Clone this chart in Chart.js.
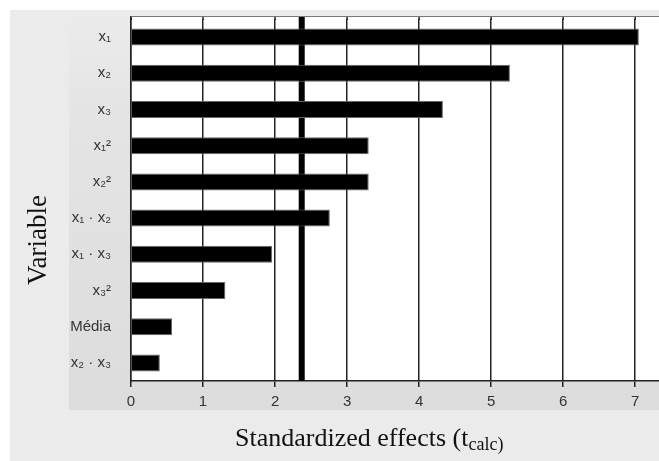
<!DOCTYPE html>
<html>
<head>
<meta charset="utf-8">
<script src="https://cdn.jsdelivr.net/npm/chart.js@4/dist/chart.umd.min.js"></script>
<style>
  html, body { margin: 0; padding: 0; background: #fff; }
  #graph { display: block; }
</style>
</head>
<body>
<canvas id="graph" width="659" height="461"></canvas>
<script>
// -------------------------
// DATA
// -------------------------
const variables = ["x\u2081", "x\u2082", "x\u2083", "x\u2081\u00b2", "x\u2082\u00b2",
  "x\u2081 \u00b7 x\u2082", "x\u2081 \u00b7 x\u2083", "x\u2083\u00b2", "Média", "x\u2082 \u00b7 x\u2083"];
const effects = [7.05, 5.26, 4.33, 3.30, 3.30, 2.76, 1.96, 1.31, 0.57, 0.40];
const xTicks = [0, 1, 2, 3, 4, 5, 6, 7];
const tCritical = 2.37;

const PLOT_TOP = 16; // frame line sits a little above the first category band

// -------------------------
// BACKGROUND + TITLES
// -------------------------
const frame = {
  id: "frame",
  beforeDraw(chart) {
    const c = chart.ctx;
    const a = chart.chartArea;
    c.save();
    c.fillStyle = "#ebebeb";
    c.fillRect(10, 10, 649, 451);
    const g = c.createLinearGradient(0, PLOT_TOP, 0, 410);
    g.addColorStop(0, "#ebebeb");
    g.addColorStop(0.25, "#e4e4e4");
    g.addColorStop(1, "#dcdcdc");
    c.fillStyle = g;
    c.fillRect(69, PLOT_TOP, 659 - 69, 410 - PLOT_TOP);
    c.fillStyle = "#ffffff";
    c.fillRect(a.left, PLOT_TOP, a.right - a.left, a.bottom - PLOT_TOP);
    c.restore();
  },
  beforeDatasetsDraw(chart) {
    // grid stubs above the first band + critical t line, under the bars
    const c = chart.ctx;
    const a = chart.chartArea;
    const sx = chart.scales.x;
    c.save();
    c.strokeStyle = "#222";
    c.lineWidth = 1.5;
    xTicks.forEach(v => {
      const x = sx.getPixelForValue(v);
      c.beginPath();
      c.moveTo(x, PLOT_TOP);
      c.lineTo(x, a.top + 1);
      c.stroke();
    });
    const x = sx.getPixelForValue(tCritical);
    c.fillStyle = "#000";
    c.fillRect(x - 3, PLOT_TOP, 6, a.bottom - PLOT_TOP);
    c.restore();
  },
  afterDraw(chart) {
    const c = chart.ctx;
    const a = chart.chartArea;
    c.save();
    c.strokeStyle = "#222";
    c.lineWidth = 1.5;
    c.beginPath();
    c.moveTo(a.left, PLOT_TOP);
    c.lineTo(a.left, a.top + 1);
    c.stroke();
    c.strokeStyle = "#777";
    c.lineWidth = 1;
    c.beginPath();
    c.moveTo(a.left, PLOT_TOP + 0.5);
    c.lineTo(a.right, PLOT_TOP + 0.5);
    c.stroke();

    c.fillStyle = "#111";
    c.textBaseline = "alphabetic";
    c.textAlign = "left";
    c.font = "26px 'Liberation Serif', 'Times New Roman', serif";
    const main = "Standardized effects (t";
    c.fillText(main, 235, 446);
    const w = c.measureText(main).width;
    c.font = "18px 'Liberation Serif', 'Times New Roman', serif";
    c.fillText("calc)", 235 + w, 450);

    c.translate(46, 240);
    c.rotate(-Math.PI / 2);
    c.textAlign = "center";
    c.font = "27px 'Liberation Serif', 'Times New Roman', serif";
    c.fillText("Variable", 0, 0);
    c.restore();
  }
};

// -------------------------
// CHART
// -------------------------
const ctx = document.getElementById("graph").getContext("2d");

const chart = new Chart(ctx, {
  type: "bar",
  data: {
    labels: variables,
    datasets: [{
      data: effects,
      backgroundColor: "#000",
      borderColor: "#666",
      borderWidth: 1,
      barPercentage: 0.47,
      categoryPercentage: 1
    }]
  },
  options: {
    indexAxis: "y",
    responsive: false,
    animation: false,
    layout: { padding: { top: 19, right: 0, left: 0, bottom: 0 } },
    plugins: {
      legend: { display: false },
      tooltip: { enabled: false }
    },
    scales: {
      x: {
        min: 0,
        max: 7.33,
        afterBuildTicks(scale) {
          scale.ticks = xTicks.map(v => ({ value: v }));
        },
        afterFit(scale) { scale.height = 80; scale.paddingLeft = 0; scale.paddingRight = 0; },
        grid: { color: "#222", lineWidth: 1.5, tickLength: 6 },
        border: { color: "#222", width: 1.5 },
        ticks: {
          color: "#333",
          padding: 6,
          font: { family: "'Liberation Sans', Arial, sans-serif", size: 15 }
        }
      },
      y: {
        afterFit(scale) { scale.width = 131; scale.paddingTop = 0; scale.paddingBottom = 0; },
        grid: { display: false, drawTicks: false },
        border: { color: "#222", width: 1.5 },
        ticks: {
          color: "#333",
          padding: 20,
          font: { family: "'Liberation Sans', Arial, sans-serif", size: 15 }
        }
      }
    }
  },
  plugins: [frame]
});
</script>
</body>
</html>
